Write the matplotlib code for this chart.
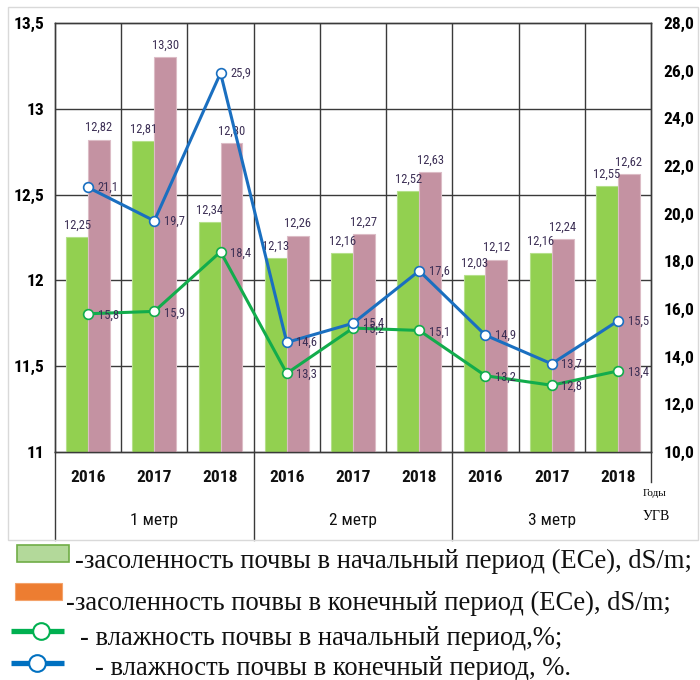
import matplotlib
matplotlib.use("Agg")
import matplotlib.pyplot as plt
from matplotlib import font_manager
from matplotlib.font_manager import FontProperties
from matplotlib.patches import Rectangle
from matplotlib.lines import Line2D

# ---- data ----
years = ['2016', '2017', '2018'] * 3
groups = ['1 метр', '2 метр', '3 метр']
ece_start = [12.25, 12.81, 12.34, 12.13, 12.16, 12.52, 12.03, 12.16, 12.55]
ece_end = [12.82, 13.30, 12.80, 12.26, 12.27, 12.63, 12.12, 12.24, 12.62]
moist_start = [15.8, 15.9, 18.4, 13.3, 15.2, 15.1, 13.2, 12.8, 13.4]
moist_end = [21.1, 19.7, 25.9, 14.6, 15.4, 17.6, 14.9, 13.7, 15.5]
left_ticks = [11, 11.5, 12, 12.5, 13, 13.5]
left_labels = ['11', '11,5', '12', '12,5', '13', '13,5']
right_ticks = [10, 12, 14, 16, 18, 20, 22, 24, 26, 28]
legend_texts = [
    '-засоленность почвы в начальный период (ECe), dS/m;',
    '-засоленность почвы в конечный период (ECe), dS/m;',
    '- влажность почвы в начальный период,%;',
    '- влажность почвы в конечный период, %.',
]

SERIF = 'Liberation Serif'


def find_condensed(bold):
    prefs = ['Liberation Sans Narrow', 'Arial Narrow', 'Roboto Condensed',
             'Open Sans Condensed', 'DejaVu Sans Condensed', 'DejaVu Sans']
    best = None
    for pref in prefs:
        for f in font_manager.fontManager.ttflist:
            cond = ('Narrow' in f.name or 'Condensed' in f.name or
                    str(f.stretch) in ('condensed', 'semi-condensed', '62.5', '75', '87.5'))
            if f.name != pref or not cond:
                continue
            if 'italic' in str(f.style) or 'oblique' in str(f.style):
                continue
            w = f.weight if isinstance(f.weight, int) else (700 if 'bold' in str(f.weight) else 400)
            if (w >= 600) == bold:
                return f.fname
    return best


COND_REG = find_condensed(False)
COND_BOLD = find_condensed(True)


def sans(size, bold=False):
    path = COND_BOLD if bold else COND_REG
    if path:
        return dict(fontproperties=FontProperties(fname=path, size=size))
    return dict(fontproperties=FontProperties(family='Liberation Sans',
                                              weight='bold' if bold else 'normal',
                                              size=size * 0.86))


def comma(v, fmt):
    return format(v, fmt).replace('.', ',')


W, H = 700, 680
fig = plt.figure(figsize=(7, 6.8), dpi=100)

fig.patches.append(Rectangle((8 / W, 1 - 540 / H), 690 / W, 533 / H, transform=fig.transFigure,
                             fill=False, edgecolor='#d9d9d9', linewidth=1))

ax = fig.add_axes([55 / W, 1 - 452 / H, (651 - 55) / W, (452 - 23) / H])
ax2 = ax.twinx()

GREEN_BAR = '#92d050'
MAUVE_BAR = '#c492a2'
BLUE = '#1a6fc0'
GREEN = '#12ac4c'
LBL = '#3c2f55'
GRID = '#3a3a3a'

x = list(range(len(years)))
bw = 0.33
ax.bar([i - bw / 2 for i in x], [v - 11 for v in ece_start], bottom=11, width=bw,
       color=GREEN_BAR, edgecolor='#b5e08a', linewidth=0.8, zorder=3)
ax.bar([i + bw / 2 for i in x], [v - 11 for v in ece_end], bottom=11, width=bw,
       color=MAUVE_BAR, edgecolor='#dcbcc6', linewidth=0.8, zorder=3)

for i in x:
    ax.annotate(comma(ece_start[i], '.2f'), (i - bw / 2, ece_start[i]), xytext=(0, 4),
                textcoords='offset points', ha='center', va='bottom',
                color=LBL, zorder=5, **sans(9))
    ax.annotate(comma(ece_end[i], '.2f'), (i + bw / 2, ece_end[i]), xytext=(0, 4),
                textcoords='offset points', ha='center', va='bottom',
                color=LBL, zorder=5, **sans(9))

ax.set_xlim(-0.5, 8.5)
ax.set_ylim(11, 13.5)
ax2.set_ylim(10, 28)

ax.set_yticks(left_ticks)
ax.set_yticklabels(left_labels, **sans(12.5, True))
ax2.set_yticks(right_ticks)
ax2.set_yticklabels([comma(t, '.1f') for t in right_ticks], **sans(12.5, True))
ax.tick_params(axis='y', length=0, pad=8)
ax2.tick_params(axis='y', length=0, pad=9)
ax.set_xticks([])
ax2.set_xticks([])

for yv in left_ticks[1:-1]:
    ax.axhline(yv, color=GRID, linewidth=1, zorder=1)
for xv in [i + 0.5 for i in x[:-1]]:
    ax.axvline(xv, color=GRID, linewidth=1, zorder=1)
for a in (ax, ax2):
    for s in a.spines.values():
        s.set_color(GRID)
        s.set_linewidth(1)

ax2.plot(x, moist_start, color=GREEN, linewidth=2.2, marker='o', markersize=7,
         markerfacecolor='white', markeredgecolor=GREEN, markeredgewidth=1.2, zorder=4)
ax2.plot(x, moist_end, color=BLUE, linewidth=2.2, marker='o', markersize=7,
         markerfacecolor='white', markeredgecolor=BLUE, markeredgewidth=1.2, zorder=4)
for i in x:
    ax2.annotate(comma(moist_start[i], '.1f'), (i, moist_start[i]), xytext=(7, -1),
                 textcoords='offset points', ha='left', va='center',
                 color=LBL, zorder=5, **sans(9))
    ax2.annotate(comma(moist_end[i], '.1f'), (i, moist_end[i]), xytext=(7, 0),
                 textcoords='offset points', ha='left', va='center',
                 color=LBL, zorder=5, **sans(9))

tr = ax.get_xaxis_transform()
axh = 452 - 23
for i in x:
    ax.text(i, -(478 - 452) / axh, years[i], transform=tr, ha='center', va='center',
            color='#111111', **sans(12.5, True))
for g, name in enumerate(groups):
    ax.text(g * 3 + 1, -(520 - 452) / axh, name, transform=tr, ha='center', va='center',
            color='#111111', **sans(12.5))
for xv in [-0.5, 2.5, 5.5]:
    ax.add_line(Line2D([xv, xv], [0, -(540 - 452) / axh], transform=tr, color=GRID,
                       linewidth=1, clip_on=False))
ax.add_line(Line2D([8.5, 8.5], [0, -(482 - 452) / axh], transform=tr, color=GRID,
                   linewidth=1, clip_on=False))

fig.text(643 / W, 1 - 493 / H, 'Годы', family=SERIF, fontsize=8,
         ha='left', va='center')
fig.text(643 / W, 1 - 516 / H, 'УГВ', family=SERIF, fontsize=10,
         ha='left', va='center')

# legend (manual)
fig.patches.append(Rectangle((17 / W, 1 - 562 / H), 52 / W, 17 / H, transform=fig.transFigure,
                             facecolor='#b3d99a', edgecolor='#70ad47', linewidth=1.2))
fig.patches.append(Rectangle((15 / W, 1 - 600 / H), 47 / W, 17 / H, transform=fig.transFigure,
                             facecolor='#ed7d31', edgecolor='#f4a36b', linewidth=0.8))
for yy, xc, col in [(631, 41, '#00b050'), (663, 37, '#0070c0')]:
    fig.lines.append(Line2D([11 / W, 64 / W], [1 - yy / H, 1 - yy / H], transform=fig.transFigure,
                            color=col, linewidth=3.8, solid_capstyle='butt'))
    fig.lines.append(Line2D([xc / W], [1 - yy / H], transform=fig.transFigure, marker='o',
                            markersize=12, markerfacecolor='white', markeredgecolor=col,
                            markeredgewidth=1.5, linestyle='none'))
legend_pos = [(75, 568), (66, 610), (80, 645), (95, 675)]
for (lx, ly), t in zip(legend_pos, legend_texts):
    fig.text(lx / W, 1 - ly / H, t, family=SERIF, fontsize=19.2, ha='left', va='baseline',
             color='#111111')

fig.savefig('out.png', dpi=100)
